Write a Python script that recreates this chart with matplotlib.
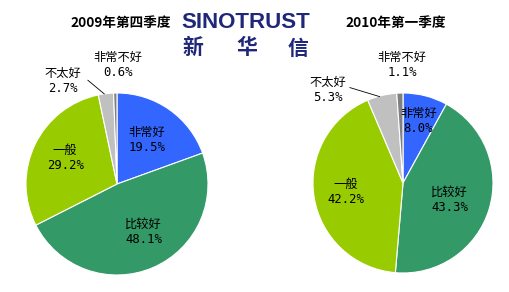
import matplotlib
matplotlib.use("Agg")
import matplotlib.pyplot as plt

plt.rcParams['font.family'] = ['Noto Sans CJK SC', 'DejaVu Sans']

# data
categories = ["非常好", "比较好", "一般", "不太好", "非常不好"]
q4_2009 = [19.5, 48.1, 29.2, 2.7, 0.6]
q1_2010 = [8.0, 43.3, 42.2, 5.3, 1.1]
titles = ["2009年第四季度", "2010年第一季度"]
colors = ["#3366FF", "#339966", "#99CC00", "#C0C0C0", "#808080"]

W, H = 509, 292
fig = plt.figure(figsize=(W / 100, H / 100), dpi=100)

# label positions in axes units (radius = 1), one list per pie
label_pos = [
    [(0.33, 0.48), (0.29, -0.53), (-0.57, 0.29), (-0.60, 1.13), (0.01, 1.31)],
    [(0.17, 0.69), (0.52, -0.19), (-0.64, -0.10), (-0.84, 1.03), (-0.01, 1.31)],
]
leaders = [
    ((-0.32, 1.14), (-0.14, 0.99)),
    ((-0.59, 1.06), (-0.26, 0.96)),
]
centers = [(117, 184, 91), (403, 183, 90)]

for i, vals in enumerate([q4_2009, q1_2010]):
    cx, cy, r = centers[i]
    ax = fig.add_axes([(cx - r) / W, (H - cy - r) / H, 2 * r / W, 2 * r / H])
    ax.pie(vals, colors=colors, startangle=90, counterclock=False, radius=1,
           wedgeprops=dict(edgecolor="white", linewidth=0.8))
    ax.set_xlim(-1, 1)
    ax.set_ylim(-1, 1)
    ax.set_aspect("equal")
    ax.axis("off")
    for j, (cat, v) in enumerate(zip(categories, vals)):
        x, y = label_pos[i][j]
        ax.text(x, y, f"{cat}\n{v:.1f}%", ha="center", va="center",
                fontsize=8.8, linespacing=1.2, clip_on=False,
                family=["DejaVu Sans Mono", "Noto Sans CJK SC"])
    (x0, y0), (x1, y1) = leaders[i]
    ax.plot([x0, x1], [y0, y1], color="black", lw=0.6, clip_on=False)

fig.text(121 / W, 1 - 23 / H, titles[0], ha="center", va="center",
         fontsize=9.8, fontweight="bold")
fig.text(396 / W, 1 - 23 / H, titles[1], ha="center", va="center",
         fontsize=9.8, fontweight="bold")

navy = "#1F2878"
fig.text(246 / W, 1 - 23 / H, "SINOTRUST", ha="center", va="center",
         fontsize=16, fontweight="bold", color=navy,
         family=["Liberation Sans Narrow", "Liberation Sans"])
for ch, px in zip("新华信", [193, 247, 298]):
    fig.text(px / W, 1 - 48 / H, ch, ha="center", va="center",
             fontsize=15, fontweight="bold", color=navy)

fig.savefig("out.png", dpi=100)
